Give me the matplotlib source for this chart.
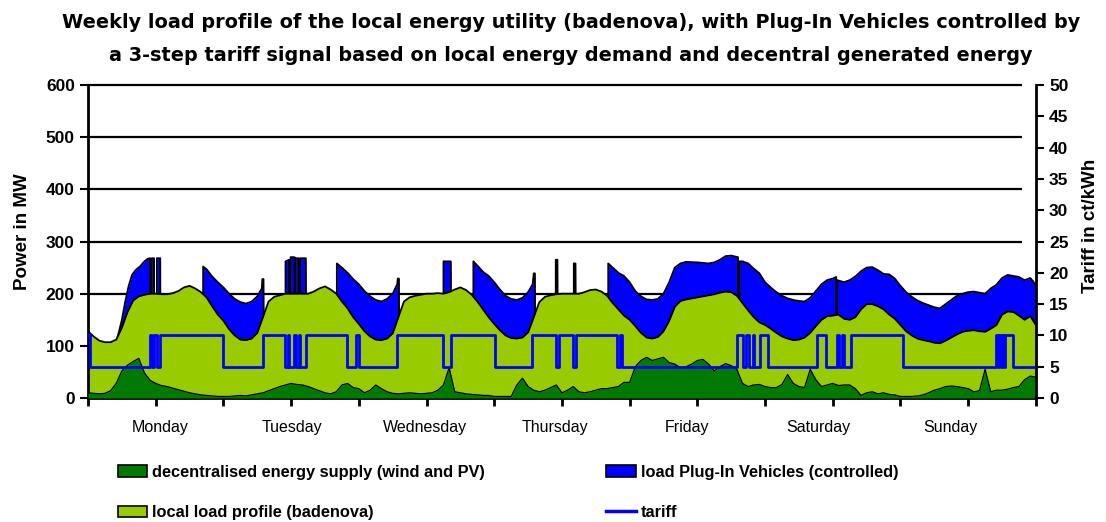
import numpy as np
import matplotlib.pyplot as plt
from matplotlib.patches import Patch
from matplotlib.lines import Line2D

plt.rcParams['font.family'] = ['Liberation Sans', 'DejaVu Sans']

# hourly values over one week (Monday 0:00 .. Sunday 24:00)
hours = np.arange(169)

load_mw = [
    128, 118, 110, 107, 107, 112, 135, 165, 187, 195, 198, 200, 200, 199, 199, 201, 205, 212, 215, 210, 203, 193, 176, 160,
    148, 132, 120, 112, 111, 114, 125, 155, 185, 194, 197, 200, 200, 200, 200, 200, 204, 210, 214, 208, 200, 185, 172, 155,
    142, 128, 118, 112, 111, 114, 124, 155, 185, 193, 196, 198, 200, 200, 201, 200, 203, 208, 212, 207, 198, 185, 170, 155,
    142, 130, 120, 115, 114, 116, 126, 155, 184, 194, 197, 199, 200, 200, 200, 200, 203, 207, 208, 204, 196, 182, 170, 158,
    150, 138, 125, 116, 114, 117, 128, 148, 175, 186, 189, 191, 193, 195, 197, 199, 202, 204, 203, 196, 182, 168, 155, 145,
    140, 133, 125, 118, 114, 111, 112, 116, 125, 138, 150, 157, 158, 160, 152, 150, 155, 170, 180, 180, 176, 170, 160, 152,
    140, 128, 120, 114, 111, 109, 106, 105, 110, 116, 122, 127, 129, 130, 128, 127, 133, 140, 160, 166, 165, 158, 150, 157,
    140]

decentral_mw = [
    10, 9, 8, 9, 14, 28, 52, 63, 70, 76, 48, 34, 28, 24, 22, 19, 16, 13, 10, 8, 6, 5, 4, 3,
    3, 3, 4, 5, 4, 6, 8, 10, 14, 18, 22, 25, 28, 26, 25, 22, 18, 14, 10, 8, 12, 25, 28, 20,
    18, 10, 15, 25, 18, 12, 9, 8, 9, 10, 9, 8, 9, 10, 15, 25, 58, 12, 10, 8, 7, 6, 5, 5,
    3, 3, 3, 3, 25, 38, 22, 15, 12, 15, 20, 25, 10, 15, 22, 12, 10, 12, 15, 18, 18, 20, 22, 30,
    30, 60, 72, 78, 72, 75, 78, 68, 65, 58, 60, 65, 72, 74, 65, 52, 60, 66, 62, 55, 28, 22, 25, 26,
    22, 20, 20, 26, 45, 28, 22, 20, 55, 35, 22, 25, 28, 24, 25, 25, 18, 5, 10, 12, 8, 10, 7, 6,
    3, 3, 3, 4, 6, 10, 15, 18, 22, 23, 22, 20, 18, 12, 14, 55, 12, 15, 15, 17, 20, 22, 35, 42,
    40]

# load incl. controlled Plug-In Vehicles (0 = no charging, hidden behind the load)
pev_t = [0, 5.2, 5.2, 6.0, 6.6, 7.2, 7.8, 8.5, 9.2, 10.0, 10.6, 11.0, 11.05, 11.3, 11.3, 11.7, 11.75, 12.2, 12.2, 12.8, 12.85,
         20.4, 20.4, 21, 22, 23, 24, 25, 26, 27, 28, 29, 30, 30.8, 30.9, 31.1, 31.2,
         35.0, 35.0, 35.6, 35.7, 35.9, 35.9, 36.6, 36.7, 36.8, 36.8, 37.3, 37.4, 37.6, 37.6, 38.6, 38.7,
         44.1, 44.1, 45, 46, 47, 48, 49, 50, 51, 52, 53, 54, 54.8, 54.9, 55.1, 55.2,
         63.0, 63.0, 64.3, 64.4,
         68.3, 68.3, 69, 70, 71, 72, 73, 74, 75, 76, 77, 78, 78.8, 79.0, 79.2, 79.3,
         82.9, 82.9, 83.2, 83.3, 86.1, 86.1, 86.4, 86.5,
         92.2, 92.2, 93, 94, 95, 96, 97, 98, 99, 100, 101, 102, 103, 104, 105, 106, 108, 110, 111, 112, 113, 114,
         115.2, 115.3, 115.5, 115.5, 116, 117, 118, 119, 120, 121, 122, 123, 124, 125, 126, 127, 128, 129, 130,
         131, 132, 132.6, 132.65, 132.75, 132.8, 134, 135, 136, 137, 138, 139, 140, 141, 142, 143, 144, 145, 146,
         147, 148, 149, 150, 151, 152, 153, 154, 155, 156, 157, 158, 159, 160, 161, 162, 163, 164, 165, 166,
         166.5, 167, 167.5, 168, 168]
pev_mw = [0, 0, 115, 150, 185, 215, 236, 246, 252, 262, 267, 268, 0, 0, 268, 268, 0, 0, 268, 268, 0,
          0, 252, 247, 233, 222, 212, 200, 190, 184, 181, 185, 195, 210, 228, 228, 0,
          0, 262, 265, 0, 0, 270, 270, 0, 0, 268, 268, 0, 0, 268, 268, 0,
          0, 258, 250, 240, 228, 218, 205, 195, 188, 185, 190, 200, 218, 229, 229, 0,
          0, 262, 262, 0,
          0, 262, 254, 242, 234, 222, 208, 196, 190, 188, 192, 203, 218, 239, 239, 0,
          0, 265, 265, 0, 0, 258, 258, 0,
          0, 258, 250, 240, 234, 222, 205, 195, 189, 188, 190, 200, 222, 250, 258, 261, 260, 258, 260, 265, 272, 273,
          270, 0, 0, 262, 262, 258, 248, 239, 222, 212, 203, 196, 191, 188, 186, 185, 192, 205, 218,
          226, 229, 232, 0, 0, 226, 222, 226, 233, 243, 250, 251, 245, 238, 237, 229, 215, 203, 194,
          187, 182, 178, 174, 172, 180, 188, 196, 200, 203, 204, 202, 200, 210, 217, 230, 236, 234, 232, 226,
          228, 230, 224, 215, 0]

# tariff in ct/kWh, value holds from each switching time on
tariff_t = [0, 0.3, 11.0, 11.3, 11.7, 12.2, 12.8, 24.0, 31.0, 34.9, 35.4, 35.7, 36.5, 36.8, 37.4, 37.6, 38.7,
            45.9, 47.5, 48.1, 54.8, 62.9, 64.3, 72.2, 78.7, 82.9, 83.4, 86.0, 86.5, 93.7, 94.2, 94.7,
            115.0, 116.1, 116.6, 117.2, 117.8, 118.1, 119.1, 120.5, 129.2, 130.8, 132.7, 133.1, 133.6, 134.0,
            135.2, 144.4, 161.0, 161.3, 161.5, 161.8, 162.0, 162.3, 162.5, 163.9, 168]
tariff_ct = [10, 5, 10, 5, 10, 5, 10, 5, 10, 5, 10, 5, 10, 5, 10, 5, 10,
             5, 10, 5, 10, 5, 10, 5, 10, 5, 10, 5, 10, 5, 10, 5,
             10, 5, 10, 5, 10, 5, 10, 5, 10, 5, 10, 5, 10, 5,
             10, 5, 10, 5, 10, 5, 10, 5, 10, 5, 5]

days = ["Monday", "Tuesday", "Wednesday", "Thursday", "Friday", "Saturday", "Sunday"]
day_label_pos = [12.8, 36.2, 59.8, 82.8, 106.1, 129.4, 152.8]

c_blue = "#0000FF"
c_light = "#99CC00"
c_dark = "#007A00"

fig = plt.figure(figsize=(11.06, 5.22), dpi=100)
ax = fig.add_axes([0.0796, 0.2375, 0.857, 0.5996])

ax.hlines([100, 200, 300, 400, 500, 600], 0, 165.5, color="black", lw=1.6, zorder=0.5, clip_on=False)

ax.fill_between(pev_t, 0, pev_mw, color=c_blue, lw=0, zorder=1)
ax.plot(pev_t, pev_mw, color="black", lw=1.3, zorder=1.1)
ax.fill_between(hours, 0, load_mw, color=c_light, lw=0, zorder=2)
ax.plot(hours, load_mw, color="black", lw=1.3, zorder=2.1)
ax.fill_between(hours, 0, decentral_mw, color=c_dark, lw=0, zorder=3)
ax.plot(hours, decentral_mw, color="black", lw=0.9, zorder=3.1)

ax.set_xlim(0, 168)
ax.set_ylim(0, 600)
ax.set_yticks(range(0, 601, 100))
ax.set_xticks(range(0, 169, 12))
ax.tick_params(axis="x", length=6, width=2, labelbottom=False)
ax.tick_params(axis="y", length=6, width=1.5, labelsize=12.5)
for lbl in ax.get_yticklabels():
    lbl.set_fontweight("bold")
for s in ["top", "right"]:
    ax.spines[s].set_visible(False)
ax.spines["left"].set_linewidth(2)
ax.spines["bottom"].set_linewidth(2)

for d, p in zip(days, day_label_pos):
    ax.text(p, -0.093, d, transform=ax.get_xaxis_transform(), ha="center", va="center", fontsize=11.5)

ax2 = ax.twinx()
ax2.step(tariff_t, tariff_ct, where="post", color=c_blue, lw=2, zorder=5)
ax2.set_ylim(0, 50)
ax2.set_yticks(range(0, 51, 5))
ax2.tick_params(axis="y", length=6, width=1.5, labelsize=12.5)
for lbl in ax2.get_yticklabels():
    lbl.set_fontweight("bold")
for s in ["top", "left", "bottom"]:
    ax2.spines[s].set_visible(False)
ax2.spines["right"].set_linewidth(2)

fig.text(0.02, 0.556, "Power in MW", rotation=90, ha="center", va="center", fontsize=13.5, fontweight="bold")
fig.text(0.986, 0.567, "Tariff in ct/kWh", rotation=90, ha="center", va="center", fontsize=13.5, fontweight="bold")

fig.text(0.516, 0.956, "Weekly load profile of the local energy utility (badenova), with Plug-In Vehicles controlled by",
         ha="center", va="center", fontsize=13.9, fontweight="bold", family="DejaVu Sans")
fig.text(0.516, 0.893, "a 3-step tariff signal based on local energy demand and decentral generated energy",
         ha="center", va="center", fontsize=13.9, fontweight="bold", family="DejaVu Sans")

handles = [Patch(facecolor=c_dark, edgecolor="black", lw=1.2),
           Patch(facecolor=c_light, edgecolor="black", lw=1.2),
           Patch(facecolor=c_blue, edgecolor="black", lw=1.2),
           Line2D([], [], color=c_blue, lw=2.5)]
labels = ["decentralised energy supply (wind and PV)", "local load profile (badenova)",
          "load Plug-In Vehicles (controlled)", "tariff"]
leg = fig.legend(handles, labels, ncol=2, loc="upper left", bbox_to_anchor=(0.093, 0.138),
                 frameon=False, fontsize=11.8, handlelength=1.8, handleheight=0.7,
                 handletextpad=0.3, labelspacing=1.55, columnspacing=7.4)
for t in leg.get_texts():
    t.set_fontweight("bold")

fig.savefig("out.png", dpi=100)
